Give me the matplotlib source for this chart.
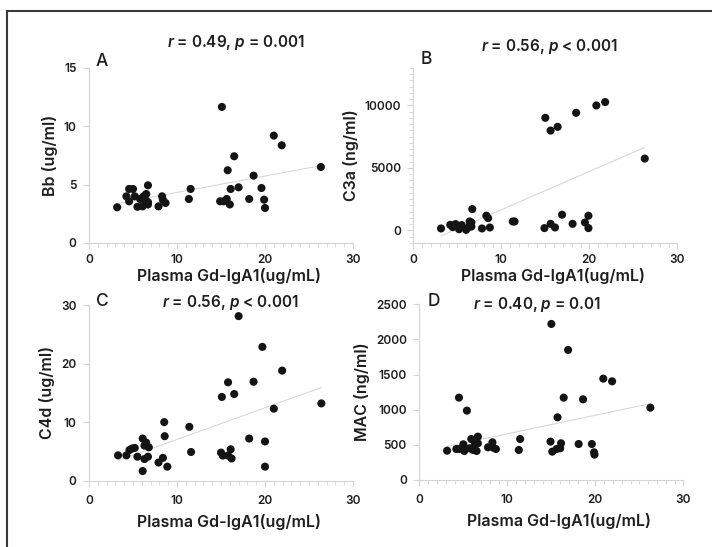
import numpy as np
import matplotlib
matplotlib.use("Agg")
import matplotlib.pyplot as plt
from matplotlib.ticker import MultipleLocator
from matplotlib.lines import Line2D

plt.rcParams['font.family'] = ['Inter', 'DejaVu Sans']
plt.rcParams['font.weight'] = 'semibold'
plt.rcParams['axes.labelweight'] = 'semibold'
plt.rcParams['mathtext.fontset'] = 'custom'
plt.rcParams['mathtext.rm'] = 'Inter:semibold'
plt.rcParams['mathtext.it'] = 'Inter:italic:semibold'

# Panel A: Bb vs Gd-IgA1
gd_a = [3.2, 4.25, 4.56, 4.56, 5.0, 5.2, 5.5, 5.8, 6.1, 6.2, 6.4, 6.7, 6.7, 6.7, 6.5,
        7.9, 8.3, 8.4, 8.7, 11.35, 11.55, 14.9, 15.1, 15.3, 15.65, 15.76, 16.0, 16.1,
        16.5, 17.0, 18.2, 18.7, 19.6, 19.9, 20.0, 21.0, 21.9, 26.35]
bb = [3.06, 4.0, 3.57, 4.63, 4.63, 4.0, 3.1, 3.77, 3.14, 4.0, 3.7, 4.94, 3.5, 3.3, 4.2,
      3.14, 4.0, 3.7, 3.43, 3.77, 4.63, 3.57, 11.66, 3.57, 3.77, 6.23, 3.3, 4.63,
      7.43, 4.77, 3.77, 5.77, 4.71, 3.71, 3.0, 9.2, 8.37, 6.51]

# Panel B: C3a vs Gd-IgA1
gd_b = [3.15, 4.2, 4.48, 4.8, 5.05, 5.2, 5.5, 6.0, 6.3, 6.4, 6.6, 6.7, 6.6, 7.8, 8.3,
        8.5, 8.7, 11.3, 11.5, 14.9, 15.0, 15.6, 15.6, 16.1, 16.4, 16.9, 18.1, 18.5,
        19.5, 19.9, 19.9, 20.8, 21.8, 26.3]
c3a = [160, 450, 270, 510, 370, 100, 430, 50, 270, 720, 640, 1710, 320, 160, 1180,
       990, 240, 720, 720, 190, 9010, 7990, 530, 240, 8290, 1260, 530, 9410,
       640, 1180, 190, 10000, 10270, 5750]

# Panel C: C4d vs Gd-IgA1
gd_c = [3.3, 4.25, 4.6, 4.9, 5.2, 5.5, 6.1, 6.1, 6.3, 6.3, 6.5, 6.7, 6.8, 7.9, 8.4,
        8.55, 8.6, 8.9, 11.4, 11.6, 15.0, 15.1, 15.2, 15.8, 15.8, 16.1, 16.2, 16.5,
        17.0, 18.2, 18.7, 19.7, 20.0, 20.0, 21.0, 21.95, 26.4]
c4d = [4.33, 4.33, 5.24, 5.5, 5.6, 4.1, 7.2, 1.65, 3.7, 6.0, 6.5, 4.1, 5.7, 3.1, 3.9,
       10.0, 7.6, 2.4, 9.2, 4.9, 4.8, 14.3, 4.3, 4.3, 16.8, 5.36, 3.8, 14.8,
       28.1, 7.2, 16.9, 22.85, 6.7, 2.4, 12.3, 18.8, 13.2]

# Panel D: MAC vs Gd-IgA1
gd_d = [3.15, 4.2, 4.5, 4.55, 5.0, 5.1, 5.4, 5.7, 5.9, 6.1, 6.3, 6.5, 6.65, 6.65, 7.8,
        8.3, 8.4, 8.7, 11.3, 11.45, 14.9, 15.0, 15.1, 15.7, 15.6, 16.0, 16.1, 16.4,
        16.9, 18.1, 18.6, 19.6, 19.85, 19.9, 20.9, 21.9, 26.25]
mac = [417, 441, 1172, 441, 508, 413, 987, 451, 583, 427, 522, 413, 617, 522, 465,
       536, 460, 441, 427, 583, 546, 2220, 403, 892, 441, 451, 522, 1172,
       1850, 512, 1148, 512, 394, 361, 1442, 1404, 1029]

panels = [
    dict(x=gd_a, y=bb, ylabel='Bb (ug/ml)', letter='A', stat=('0.49', '=', '0.001'),
         ylim=(0, 15), yticks=[0, 5, 10, 15], yminor=None, xlab_off=33, xpad=4,
         rect=[0.125, 0.5558, 0.3708, 0.32], title_xy=(236, 43), letter_xy=(96, 62)),
    dict(x=gd_b, y=c3a, ylabel='C3a (ng/ml)', letter='B', stat=('0.56', '<', '0.001'),
         ylim=(-1000, 13000), yticks=[0, 5000, 10000], yminor=500, xlab_off=33, xpad=4,
         rect=[0.5805, 0.5558, 0.3708, 0.32], title_xy=(550, 47), letter_xy=(421, 60)),
    dict(x=gd_c, y=c4d, ylabel='C4d (ug/ml)', letter='C', stat=('0.56', '<', '0.001'),
         ylim=(0, 30), yticks=[0, 10, 20, 30], yminor=None, xlab_off=41, xpad=6,
         rect=[0.125, 0.1212, 0.3708, 0.3212], title_xy=(231, 302), letter_xy=(96, 302)),
    dict(x=gd_d, y=mac, ylabel='MAC (ng/ml)', letter='D', stat=('0.40', '=', '0.01'),
         ylim=(0, 2500), yticks=[0, 500, 1000, 1500, 2000, 2500], yminor=None, xlab_off=41, xpad=6,
         rect=[0.589, 0.1225, 0.3708, 0.3212], title_xy=(537, 305), letter_xy=(428, 301)),
]

W, H = 712, 547
fig = plt.figure(figsize=(W / 100, H / 100), dpi=100)

# frame around the figure (only top and left edges visible)
fig.add_artist(Line2D([7 / W, 7 / W], [0, 1 - 11 / H], color='#3a3a3a', lw=1.5))
fig.add_artist(Line2D([7 / W, 1], [1 - 11 / H, 1 - 11 / H], color='#3a3a3a', lw=1.5))

axis_col = '#d4d4d4'
text_col = '#1e1e1e'

for p in panels:
    ax = fig.add_axes(p['rect'])
    x = np.array(p['x'])
    y = np.array(p['y'])
    k, b = np.polyfit(x, y, 1)
    xs = np.array([x.min(), x.max()])
    ax.plot(xs, k * xs + b, color='#d8d8d8', lw=0.8, zorder=1)
    ax.scatter(x, y, s=34, color='#141414', edgecolors='none', zorder=2)

    ax.set_xlim(0, 30)
    ax.set_ylim(*p['ylim'])
    ax.set_xticks([0, 10, 20, 30])
    ax.xaxis.set_minor_locator(MultipleLocator(1))
    ax.set_yticks(p['yticks'])
    if p['yminor']:
        ax.yaxis.set_minor_locator(MultipleLocator(p['yminor']))
    for s in ['top', 'right']:
        ax.spines[s].set_visible(False)
    for s in ['left', 'bottom']:
        ax.spines[s].set_color(axis_col)
        ax.spines[s].set_linewidth(0.8)
    ax.tick_params(which='major', length=4, width=0.8, color=axis_col,
                   labelsize=8.5, labelcolor=text_col)
    ax.tick_params(which='minor', length=3, width=0.6, color=axis_col)
    ax.tick_params(axis='x', pad=p['xpad'])
    ax.tick_params(axis='y', pad=5)
    for lbl in ax.get_xticklabels() + ax.get_yticklabels():
        lbl.set_fontweight('semibold')
    ax.set_xlabel('Plasma Gd-IgA1(ug/mL)', fontsize=11.5, color=text_col, va='center')
    ax_h = p['rect'][3] * H
    ax.xaxis.set_label_coords(0.53, -p['xlab_off'] / ax_h)
    ax.set_ylabel(p['ylabel'], fontsize=11.5, color=text_col)

    tx, ty = p['title_xy']
    r, op, pv = p['stat']
    fig.text(tx / W, 1 - ty / H, r'$\mathit{r}$ = ' + r + r', $\mathit{p}$ ' + op + ' ' + pv,
             ha='center', va='center', fontsize=11, color=text_col)
    lx, ly = p['letter_xy']
    fig.text(lx / W, 1 - ly / H, p['letter'], ha='left', va='center',
             fontsize=12.5, fontweight='medium', color=text_col)

fig.savefig('out.png', dpi=100)
